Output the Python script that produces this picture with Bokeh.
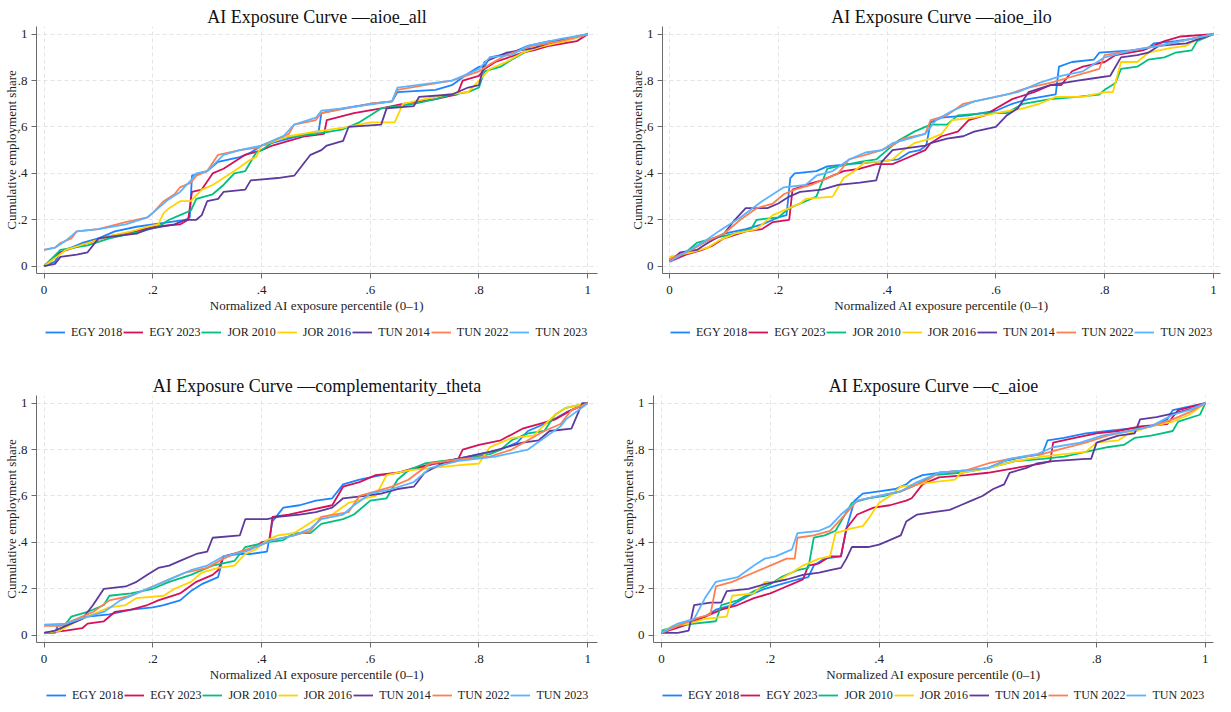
from bokeh.plotting import figure
from bokeh.models import (Range1d, FixedTicker, CustomJSTickFormatter, Legend, LegendItem)
from bokeh.layouts import column, row
from bokeh.embed import file_html
from bokeh.resources import INLINE

FONT = "Liberation Serif"
SERIES = ["EGY 2018", "EGY 2023", "JOR 2010", "JOR 2016", "TUN 2014", "TUN 2022", "TUN 2023"]
COLORS = ["#1a85ff", "#d41159", "#00bf7f", "#ffd400", "#5e3a9e", "#ff7f50", "#5ab4ff"]
TICKS = [0, 0.2, 0.4, 0.6, 0.8, 1.0]

# ---------------- aioe_all ----------------
ALL_EGY_2018 = [(0, 0.0), (0.02, 0.02), (0.03, 0.06), (0.05, 0.08), (0.07, 0.10), (0.1, 0.12), (0.13, 0.15),
                (0.17, 0.17), (0.2, 0.18), (0.26, 0.20), (0.268, 0.21), (0.272, 0.39), (0.3, 0.41), (0.32, 0.45),
                (0.36, 0.47), (0.38, 0.49), (0.4, 0.52), (0.45, 0.55), (0.5, 0.58), (0.505, 0.58), (0.51, 0.66),
                (0.55, 0.68), (0.6, 0.70), (0.64, 0.71), (0.65, 0.75), (0.72, 0.76), (0.75, 0.78), (0.78, 0.83),
                (0.8, 0.86), (0.81, 0.86), (0.82, 0.90), (0.86, 0.92), (0.89, 0.95), (0.93, 0.97), (0.97, 0.98),
                (1.0, 1.0)]
ALL_EGY_2023 = [(0, 0.0), (0.03, 0.06), (0.08, 0.10), (0.12, 0.13), (0.17, 0.15), (0.2, 0.17), (0.25, 0.18),
                (0.265, 0.20), (0.272, 0.32), (0.29, 0.33), (0.31, 0.40), (0.33, 0.42), (0.35, 0.45), (0.37, 0.48),
                (0.4, 0.50), (0.42, 0.52), (0.45, 0.54), (0.48, 0.56), (0.515, 0.57), (0.52, 0.63), (0.57, 0.66),
                (0.62, 0.68), (0.66, 0.70), (0.72, 0.72), (0.76, 0.74), (0.77, 0.80), (0.8, 0.82), (0.81, 0.85),
                (0.83, 0.88), (0.88, 0.92), (0.9, 0.93), (0.93, 0.95), (0.98, 0.97), (1.0, 1.0)]
ALL_JOR_2010 = [(0, 0.0), (0.03, 0.07), (0.08, 0.09), (0.12, 0.12), (0.16, 0.14), (0.18, 0.15), (0.21, 0.17),
                (0.23, 0.20), (0.25, 0.22), (0.27, 0.24), (0.28, 0.29), (0.31, 0.31), (0.33, 0.35), (0.35, 0.40),
                (0.37, 0.41), (0.39, 0.49), (0.4, 0.50), (0.43, 0.55), (0.5, 0.57), (0.55, 0.59), (0.58, 0.62),
                (0.62, 0.68), (0.68, 0.70), (0.72, 0.72), (0.75, 0.74), (0.78, 0.75), (0.8, 0.77), (0.81, 0.84),
                (0.84, 0.86), (0.86, 0.89), (0.89, 0.93), (0.93, 0.96), (0.97, 0.98), (1.0, 1.0)]
ALL_JOR_2016 = [(0, 0.0), (0.04, 0.07), (0.08, 0.10), (0.12, 0.13), (0.16, 0.15), (0.19, 0.17), (0.21, 0.18),
                (0.22, 0.23), (0.23, 0.25), (0.25, 0.28), (0.27, 0.28), (0.29, 0.33), (0.31, 0.35), (0.33, 0.38),
                (0.35, 0.41), (0.38, 0.46), (0.39, 0.47), (0.4, 0.52), (0.45, 0.56), (0.5, 0.58), (0.56, 0.60),
                (0.6, 0.62), (0.645, 0.62), (0.66, 0.70), (0.7, 0.72), (0.74, 0.74), (0.78, 0.75), (0.8, 0.80),
                (0.82, 0.85), (0.85, 0.88), (0.88, 0.92), (0.92, 0.95), (0.96, 0.97), (1.0, 1.0)]
ALL_TUN_2014 = [(0, 0.0), (0.02, 0.01), (0.03, 0.04), (0.06, 0.05), (0.08, 0.06), (0.1, 0.12), (0.13, 0.13),
                (0.17, 0.14), (0.19, 0.16), (0.24, 0.18), (0.26, 0.20), (0.28, 0.20), (0.29, 0.22), (0.3, 0.28),
                (0.32, 0.29), (0.33, 0.32), (0.37, 0.33), (0.38, 0.37), (0.43, 0.38), (0.46, 0.39), (0.47, 0.42),
                (0.49, 0.48), (0.51, 0.50), (0.52, 0.52), (0.55, 0.54), (0.56, 0.60), (0.62, 0.61), (0.63, 0.68),
                (0.68, 0.69), (0.69, 0.73), (0.75, 0.74), (0.78, 0.77), (0.8, 0.78), (0.81, 0.88), (0.85, 0.92),
                (0.9, 0.94), (0.94, 0.97), (1.0, 1.0)]
ALL_TUN_2022 = [(0, 0.07), (0.02, 0.08), (0.03, 0.10), (0.05, 0.12), (0.06, 0.15), (0.1, 0.16), (0.15, 0.19),
                (0.19, 0.21), (0.2, 0.23), (0.22, 0.28), (0.24, 0.31), (0.25, 0.34), (0.27, 0.36), (0.28, 0.39),
                (0.3, 0.41), (0.32, 0.48), (0.36, 0.50), (0.39, 0.51), (0.42, 0.54), (0.45, 0.57), (0.46, 0.61),
                (0.5, 0.63), (0.51, 0.66), (0.6, 0.70), (0.64, 0.71), (0.65, 0.76), (0.7, 0.78), (0.75, 0.80),
                (0.8, 0.84), (0.82, 0.87), (0.85, 0.91), (0.9, 0.95), (0.95, 0.97), (1.0, 1.0)]
ALL_TUN_2023 = [(0, 0.07), (0.02, 0.08), (0.04, 0.11), (0.06, 0.15), (0.1, 0.16), (0.15, 0.18), (0.19, 0.21),
                (0.21, 0.25), (0.23, 0.29), (0.25, 0.32), (0.27, 0.37), (0.28, 0.40), (0.3, 0.41), (0.33, 0.48),
                (0.36, 0.50), (0.4, 0.52), (0.44, 0.56), (0.46, 0.61), (0.5, 0.64), (0.51, 0.67), (0.55, 0.68),
                (0.64, 0.71), (0.65, 0.77), (0.75, 0.80), (0.8, 0.85), (0.82, 0.90), (0.86, 0.91), (0.89, 0.95),
                (0.95, 0.98), (1.0, 1.0)]

# ---------------- aioe_ilo ----------------
ILO_EGY_2018 = [(0, 0.03), (0.03, 0.06), (0.06, 0.10), (0.1, 0.14), (0.14, 0.16), (0.17, 0.18), (0.2, 0.21),
                (0.215, 0.22), (0.222, 0.38), (0.23, 0.40), (0.27, 0.41), (0.29, 0.43), (0.33, 0.44), (0.38, 0.45),
                (0.42, 0.46), (0.44, 0.49), (0.46, 0.50), (0.472, 0.52), (0.48, 0.62), (0.5, 0.64), (0.55, 0.65),
                (0.6, 0.67), (0.63, 0.70), (0.66, 0.72), (0.71, 0.74), (0.716, 0.86), (0.74, 0.88), (0.78, 0.89),
                (0.79, 0.92), (0.85, 0.93), (0.88, 0.94), (0.89, 0.96), (0.93, 0.97), (0.96, 0.98), (1.0, 1.0)]
ILO_EGY_2023 = [(0, 0.02), (0.03, 0.05), (0.06, 0.07), (0.08, 0.09), (0.1, 0.12), (0.14, 0.15), (0.17, 0.16),
                (0.19, 0.19), (0.22, 0.20), (0.226, 0.33), (0.25, 0.35), (0.28, 0.37), (0.3, 0.39), (0.32, 0.41),
                (0.35, 0.42), (0.38, 0.44), (0.41, 0.44), (0.43, 0.46), (0.47, 0.50), (0.48, 0.53), (0.5, 0.56),
                (0.53, 0.58), (0.55, 0.63), (0.58, 0.65), (0.6, 0.68), (0.63, 0.72), (0.67, 0.75), (0.7, 0.78),
                (0.72, 0.78), (0.74, 0.84), (0.76, 0.86), (0.8, 0.88), (0.82, 0.91), (0.87, 0.93), (0.91, 0.97),
                (0.94, 0.99), (1.0, 1.0)]
ILO_JOR_2010 = [(0, 0.03), (0.03, 0.06), (0.05, 0.10), (0.08, 0.12), (0.12, 0.14), (0.15, 0.16), (0.16, 0.20),
                (0.2, 0.21), (0.22, 0.25), (0.25, 0.28), (0.27, 0.30), (0.29, 0.42), (0.31, 0.43), (0.35, 0.45),
                (0.38, 0.46), (0.4, 0.50), (0.42, 0.54), (0.45, 0.58), (0.48, 0.61), (0.51, 0.61), (0.53, 0.65),
                (0.58, 0.66), (0.62, 0.66), (0.65, 0.70), (0.7, 0.72), (0.75, 0.73), (0.79, 0.74), (0.8, 0.76),
                (0.82, 0.79), (0.83, 0.85), (0.86, 0.86), (0.88, 0.89), (0.91, 0.90), (0.93, 0.92), (0.96, 0.93),
                (0.97, 0.97), (1.0, 1.0)]
ILO_JOR_2016 = [(0, 0.04), (0.04, 0.06), (0.07, 0.08), (0.09, 0.11), (0.12, 0.14), (0.16, 0.16), (0.19, 0.22),
                (0.22, 0.25), (0.24, 0.27), (0.25, 0.29), (0.3, 0.30), (0.32, 0.38), (0.34, 0.41), (0.36, 0.45),
                (0.39, 0.45), (0.41, 0.46), (0.43, 0.50), (0.45, 0.53), (0.48, 0.55), (0.5, 0.57), (0.52, 0.63),
                (0.56, 0.64), (0.6, 0.66), (0.65, 0.68), (0.68, 0.70), (0.71, 0.73), (0.76, 0.73), (0.8, 0.75),
                (0.815, 0.75), (0.83, 0.88), (0.86, 0.88), (0.88, 0.92), (0.92, 0.94), (0.95, 0.95), (0.97, 0.98),
                (1.0, 1.0)]
ILO_TUN_2014 = [(0, 0.02), (0.02, 0.06), (0.05, 0.07), (0.07, 0.10), (0.1, 0.14), (0.12, 0.20), (0.14, 0.25),
                (0.18, 0.25), (0.2, 0.27), (0.22, 0.30), (0.24, 0.32), (0.28, 0.33), (0.31, 0.35), (0.35, 0.36),
                (0.38, 0.37), (0.39, 0.45), (0.41, 0.50), (0.44, 0.51), (0.47, 0.52), (0.48, 0.53), (0.51, 0.55),
                (0.54, 0.56), (0.56, 0.58), (0.6, 0.60), (0.62, 0.65), (0.64, 0.68), (0.66, 0.75), (0.7, 0.78),
                (0.75, 0.80), (0.78, 0.81), (0.81, 0.82), (0.83, 0.90), (0.86, 0.91), (0.88, 0.92), (0.9, 0.95),
                (0.95, 0.96), (1.0, 1.0)]
ILO_TUN_2022 = [(0, 0.03), (0.04, 0.07), (0.07, 0.11), (0.1, 0.14), (0.13, 0.20), (0.16, 0.25), (0.19, 0.27),
                (0.21, 0.31), (0.23, 0.33), (0.26, 0.35), (0.28, 0.37), (0.31, 0.40), (0.33, 0.46), (0.36, 0.48),
                (0.39, 0.50), (0.41, 0.52), (0.43, 0.55), (0.47, 0.57), (0.48, 0.63), (0.51, 0.65), (0.54, 0.70),
                (0.58, 0.72), (0.62, 0.74), (0.66, 0.77), (0.7, 0.79), (0.73, 0.81), (0.76, 0.83), (0.79, 0.85),
                (0.8, 0.91), (0.85, 0.93), (0.9, 0.95), (0.94, 0.97), (1.0, 1.0)]
ILO_TUN_2023 = [(0, 0.02), (0.03, 0.06), (0.06, 0.10), (0.09, 0.15), (0.13, 0.21), (0.17, 0.28), (0.19, 0.31),
                (0.21, 0.34), (0.25, 0.35), (0.27, 0.39), (0.3, 0.41), (0.33, 0.46), (0.36, 0.49), (0.39, 0.50),
                (0.41, 0.53), (0.44, 0.55), (0.47, 0.57), (0.49, 0.63), (0.52, 0.67), (0.56, 0.71), (0.6, 0.73),
                (0.64, 0.75), (0.68, 0.79), (0.72, 0.82), (0.76, 0.84), (0.78, 0.87), (0.8, 0.90), (0.85, 0.93),
                (0.9, 0.95), (0.94, 0.97), (1.0, 1.0)]

# ---------------- complementarity_theta ----------------
THE_EGY_2018 = [(0, 0.01), (0.02, 0.01), (0.025, 0.04), (0.06, 0.06), (0.08, 0.08), (0.12, 0.09), (0.16, 0.11),
                (0.2, 0.12), (0.22, 0.13), (0.25, 0.15), (0.27, 0.19), (0.29, 0.22), (0.32, 0.25), (0.33, 0.34),
                (0.36, 0.35), (0.38, 0.35), (0.41, 0.36), (0.42, 0.49), (0.44, 0.55), (0.47, 0.56), (0.5, 0.58),
                (0.53, 0.59), (0.55, 0.65), (0.58, 0.67), (0.62, 0.69), (0.65, 0.70), (0.69, 0.72), (0.72, 0.74),
                (0.76, 0.76), (0.8, 0.78), (0.84, 0.80), (0.87, 0.83), (0.89, 0.88), (0.93, 0.92), (0.96, 0.96),
                (1.0, 1.0)]
THE_EGY_2023 = [(0, 0.01), (0.04, 0.02), (0.07, 0.03), (0.08, 0.05), (0.11, 0.06), (0.13, 0.10), (0.16, 0.11),
                (0.19, 0.13), (0.21, 0.15), (0.25, 0.18), (0.28, 0.23), (0.31, 0.26), (0.32, 0.28), (0.33, 0.34),
                (0.38, 0.37), (0.4, 0.40), (0.415, 0.41), (0.42, 0.51), (0.45, 0.52), (0.49, 0.54), (0.53, 0.56),
                (0.55, 0.64), (0.58, 0.66), (0.61, 0.69), (0.65, 0.70), (0.68, 0.72), (0.72, 0.74), (0.76, 0.75),
                (0.77, 0.80), (0.8, 0.82), (0.84, 0.84), (0.88, 0.89), (0.91, 0.91), (0.94, 0.93), (0.97, 0.97),
                (1.0, 1.0)]
THE_JOR_2010 = [(0, 0.01), (0.03, 0.02), (0.05, 0.08), (0.08, 0.10), (0.11, 0.13), (0.12, 0.17), (0.16, 0.18),
                (0.2, 0.20), (0.23, 0.23), (0.27, 0.26), (0.29, 0.28), (0.31, 0.30), (0.35, 0.32), (0.37, 0.38),
                (0.41, 0.40), (0.44, 0.41), (0.46, 0.44), (0.49, 0.44), (0.51, 0.48), (0.55, 0.50), (0.57, 0.52),
                (0.6, 0.58), (0.63, 0.59), (0.65, 0.67), (0.67, 0.71), (0.7, 0.74), (0.73, 0.75), (0.77, 0.76),
                (0.82, 0.78), (0.84, 0.80), (0.86, 0.84), (0.89, 0.87), (0.92, 0.88), (0.94, 0.95), (0.96, 0.98),
                (1.0, 1.0)]
THE_JOR_2016 = [(0, 0.01), (0.03, 0.02), (0.06, 0.06), (0.09, 0.09), (0.12, 0.12), (0.15, 0.13), (0.17, 0.16),
                (0.22, 0.17), (0.24, 0.20), (0.27, 0.23), (0.29, 0.27), (0.32, 0.29), (0.35, 0.30), (0.37, 0.35),
                (0.39, 0.37), (0.41, 0.41), (0.43, 0.43), (0.46, 0.44), (0.48, 0.47), (0.5, 0.50), (0.53, 0.52),
                (0.56, 0.57), (0.59, 0.59), (0.61, 0.60), (0.63, 0.69), (0.67, 0.71), (0.71, 0.72), (0.75, 0.73),
                (0.8, 0.74), (0.82, 0.81), (0.86, 0.85), (0.9, 0.86), (0.94, 0.95), (0.96, 0.98), (1.0, 1.0)]
THE_TUN_2014 = [(0, 0.01), (0.02, 0.02), (0.04, 0.04), (0.07, 0.07), (0.09, 0.13), (0.11, 0.20), (0.15, 0.21),
                (0.17, 0.23), (0.19, 0.26), (0.21, 0.29), (0.23, 0.30), (0.25, 0.32), (0.28, 0.35), (0.3, 0.36),
                (0.31, 0.42), (0.36, 0.43), (0.37, 0.50), (0.41, 0.50), (0.43, 0.51), (0.47, 0.52), (0.5, 0.53),
                (0.53, 0.55), (0.55, 0.59), (0.59, 0.60), (0.62, 0.61), (0.65, 0.63), (0.68, 0.64), (0.7, 0.70),
                (0.74, 0.75), (0.78, 0.77), (0.82, 0.79), (0.85, 0.81), (0.88, 0.83), (0.91, 0.84), (0.93, 0.88),
                (0.97, 0.89), (0.99, 1.0), (1.0, 1.0)]
THE_TUN_2022 = [(0, 0.04), (0.03, 0.04), (0.06, 0.07), (0.09, 0.10), (0.12, 0.15), (0.16, 0.17), (0.19, 0.20),
                (0.22, 0.23), (0.26, 0.27), (0.3, 0.29), (0.33, 0.33), (0.36, 0.36), (0.4, 0.39), (0.42, 0.41),
                (0.46, 0.43), (0.49, 0.45), (0.51, 0.51), (0.56, 0.53), (0.58, 0.60), (0.61, 0.62), (0.64, 0.64),
                (0.67, 0.67), (0.71, 0.74), (0.77, 0.76), (0.82, 0.77), (0.86, 0.80), (0.89, 0.84), (0.92, 0.88),
                (0.95, 0.91), (0.97, 0.97), (1.0, 1.0)]
THE_TUN_2023 = [(0, 0.045), (0.04, 0.05), (0.08, 0.08), (0.11, 0.10), (0.14, 0.15), (0.17, 0.18), (0.2, 0.21),
                (0.24, 0.25), (0.27, 0.28), (0.3, 0.30), (0.33, 0.34), (0.37, 0.36), (0.4, 0.39), (0.42, 0.41),
                (0.46, 0.43), (0.49, 0.46), (0.51, 0.50), (0.55, 0.52), (0.57, 0.56), (0.6, 0.61), (0.64, 0.63),
                (0.68, 0.66), (0.71, 0.72), (0.76, 0.75), (0.83, 0.77), (0.89, 0.80), (0.95, 0.90), (0.96, 0.93),
                (1.0, 1.0)]

# ---------------- c_aioe ----------------
CA_EGY_2018 = [(0, 0.01), (0.03, 0.04), (0.05, 0.06), (0.08, 0.08), (0.1, 0.11), (0.13, 0.13), (0.16, 0.17),
               (0.19, 0.20), (0.22, 0.22), (0.25, 0.24), (0.27, 0.25), (0.28, 0.30), (0.3, 0.33), (0.33, 0.34),
               (0.34, 0.46), (0.355, 0.58), (0.37, 0.61), (0.4, 0.62), (0.43, 0.63), (0.45, 0.65), (0.46, 0.67),
               (0.48, 0.69), (0.51, 0.70), (0.56, 0.71), (0.6, 0.72), (0.63, 0.75), (0.67, 0.77), (0.7, 0.78),
               (0.71, 0.84), (0.74, 0.85), (0.78, 0.87), (0.82, 0.88), (0.86, 0.89), (0.9, 0.90), (0.93, 0.93),
               (0.94, 0.97), (1.0, 1.0)]
CA_EGY_2023 = [(0, 0.01), (0.04, 0.04), (0.07, 0.07), (0.09, 0.09), (0.11, 0.11), (0.14, 0.13), (0.17, 0.16),
               (0.2, 0.18), (0.22, 0.20), (0.24, 0.22), (0.26, 0.24), (0.27, 0.30), (0.29, 0.31), (0.31, 0.34),
               (0.33, 0.34), (0.34, 0.46), (0.36, 0.52), (0.39, 0.55), (0.42, 0.56), (0.45, 0.58), (0.46, 0.59),
               (0.48, 0.65), (0.51, 0.68), (0.56, 0.69), (0.6, 0.70), (0.65, 0.72), (0.7, 0.74), (0.715, 0.75),
               (0.72, 0.83), (0.76, 0.85), (0.8, 0.87), (0.84, 0.88), (0.88, 0.90), (0.93, 0.91), (0.95, 0.97),
               (1.0, 1.0)]
CA_JOR_2010 = [(0, 0.02), (0.03, 0.04), (0.06, 0.05), (0.1, 0.06), (0.11, 0.13), (0.14, 0.15), (0.17, 0.19),
               (0.2, 0.22), (0.22, 0.25), (0.25, 0.28), (0.27, 0.29), (0.28, 0.42), (0.3, 0.43), (0.32, 0.45),
               (0.35, 0.57), (0.38, 0.59), (0.41, 0.60), (0.44, 0.62), (0.47, 0.65), (0.5, 0.69), (0.55, 0.70),
               (0.6, 0.72), (0.65, 0.75), (0.7, 0.76), (0.74, 0.77), (0.78, 0.79), (0.82, 0.81), (0.85, 0.82),
               (0.87, 0.85), (0.9, 0.86), (0.92, 0.87), (0.94, 0.88), (0.95, 0.92), (0.99, 0.95), (1.0, 1.0)]
CA_JOR_2016 = [(0, 0.01), (0.02, 0.04), (0.05, 0.05), (0.08, 0.07), (0.12, 0.08), (0.13, 0.17), (0.17, 0.18),
               (0.19, 0.23), (0.21, 0.23), (0.24, 0.27), (0.26, 0.30), (0.29, 0.33), (0.31, 0.34), (0.32, 0.44),
               (0.35, 0.46), (0.37, 0.47), (0.38, 0.50), (0.4, 0.57), (0.42, 0.60), (0.44, 0.64), (0.47, 0.65),
               (0.5, 0.66), (0.54, 0.67), (0.55, 0.70), (0.6, 0.72), (0.65, 0.75), (0.7, 0.77), (0.74, 0.78),
               (0.78, 0.79), (0.8, 0.83), (0.84, 0.84), (0.86, 0.87), (0.9, 0.90), (0.94, 0.92), (0.97, 0.95),
               (1.0, 1.0)]
CA_TUN_2014 = [(0, 0.01), (0.03, 0.01), (0.05, 0.02), (0.06, 0.13), (0.09, 0.14), (0.11, 0.14), (0.12, 0.19),
               (0.16, 0.20), (0.19, 0.22), (0.23, 0.24), (0.26, 0.26), (0.29, 0.27), (0.31, 0.28), (0.33, 0.29),
               (0.34, 0.33), (0.35, 0.38), (0.38, 0.38), (0.4, 0.39), (0.41, 0.40), (0.44, 0.43), (0.45, 0.49),
               (0.47, 0.52), (0.5, 0.53), (0.53, 0.54), (0.55, 0.56), (0.57, 0.58), (0.59, 0.60), (0.61, 0.63),
               (0.63, 0.65), (0.64, 0.70), (0.67, 0.72), (0.69, 0.74), (0.72, 0.75), (0.78, 0.76), (0.79, 0.76),
               (0.8, 0.83), (0.84, 0.86), (0.87, 0.87), (0.88, 0.93), (0.91, 0.94), (0.95, 0.96), (0.98, 0.98),
               (1.0, 1.0)]
CA_TUN_2022 = [(0, 0.01), (0.03, 0.04), (0.06, 0.07), (0.09, 0.09), (0.1, 0.21), (0.13, 0.23), (0.17, 0.27),
               (0.2, 0.30), (0.23, 0.33), (0.245, 0.33), (0.25, 0.42), (0.28, 0.43), (0.31, 0.45), (0.33, 0.50),
               (0.36, 0.58), (0.4, 0.60), (0.44, 0.62), (0.47, 0.65), (0.49, 0.67), (0.51, 0.70), (0.56, 0.71),
               (0.6, 0.74), (0.64, 0.76), (0.7, 0.78), (0.73, 0.80), (0.78, 0.83), (0.82, 0.86), (0.86, 0.88),
               (0.9, 0.90), (0.94, 0.93), (0.97, 0.96), (1.0, 1.0)]
CA_TUN_2023 = [(0, 0.01), (0.03, 0.05), (0.06, 0.07), (0.08, 0.16), (0.1, 0.23), (0.14, 0.25), (0.17, 0.30),
               (0.19, 0.33), (0.21, 0.34), (0.24, 0.37), (0.25, 0.44), (0.29, 0.45), (0.31, 0.47), (0.33, 0.52),
               (0.36, 0.58), (0.4, 0.60), (0.44, 0.62), (0.47, 0.66), (0.51, 0.70), (0.56, 0.71), (0.6, 0.72),
               (0.64, 0.76), (0.69, 0.78), (0.72, 0.81), (0.77, 0.83), (0.81, 0.86), (0.86, 0.88), (0.9, 0.90),
               (0.94, 0.95), (0.97, 0.97), (1.0, 1.0)]

PANELS = [
    ("AI Exposure Curve \u2014aioe_all",
     [ALL_EGY_2018, ALL_EGY_2023, ALL_JOR_2010, ALL_JOR_2016, ALL_TUN_2014, ALL_TUN_2022, ALL_TUN_2023]),
    ("AI Exposure Curve \u2014aioe_ilo",
     [ILO_EGY_2018, ILO_EGY_2023, ILO_JOR_2010, ILO_JOR_2016, ILO_TUN_2014, ILO_TUN_2022, ILO_TUN_2023]),
    ("AI Exposure Curve \u2014complementarity_theta",
     [THE_EGY_2018, THE_EGY_2023, THE_JOR_2010, THE_JOR_2016, THE_TUN_2014, THE_TUN_2022, THE_TUN_2023]),
    ("AI Exposure Curve \u2014c_aioe",
     [CA_EGY_2018, CA_EGY_2023, CA_JOR_2010, CA_JOR_2016, CA_TUN_2014, CA_TUN_2022, CA_TUN_2023]),
]

FMT = CustomJSTickFormatter(code="""
if (Math.abs(tick) < 1e-9) return "0";
if (Math.abs(tick - 1) < 1e-9) return "1";
return tick.toFixed(1).replace(/^0/, "");
""")


def make_panel(title, data, fw, fh, xr, mr, mt):
    p = figure(frame_width=fw, frame_height=fh, output_backend="svg", toolbar_location=None,
               x_range=Range1d(*xr), y_range=Range1d(-0.0315, 1.033),
               min_border_left=30, min_border_right=mr, min_border_top=mt, min_border_bottom=43,
               background_fill_color="white", border_fill_color="white")
    p.outline_line_color = None
    p.title.text = title
    p.title.text_font = FONT
    p.title.text_font_size = "18px"
    p.title.text_font_style = "normal"
    p.title.text_color = "#111111"
    p.title.align = "center"
    p.title.standoff = 0
    p.title.offset = 0
    for ax in (p.xaxis[0], p.yaxis[0]):
        ax.ticker = FixedTicker(ticks=TICKS)
        ax.formatter = FMT
        ax.major_label_text_font = FONT
        ax.major_label_text_font_size = "13px"
        ax.major_label_text_color = "#222222"
        ax.axis_label_text_font = FONT
        ax.axis_label_text_font_size = "13px"
        ax.axis_label_text_font_style = "normal"
        ax.axis_label_text_color = "#222222"
        ax.axis_line_color = "#6b6b6b"
        ax.major_tick_line_color = "#6b6b6b"
        ax.major_tick_out = 5
        ax.major_tick_in = 0
        ax.minor_tick_line_color = None
    p.xaxis.axis_label = "Normalized AI exposure percentile (0\u20131)"
    p.yaxis.axis_label = "Cumulative employment share"
    p.xaxis.major_label_standoff = 7
    p.xaxis.axis_label_standoff = 1
    p.yaxis.major_label_standoff = 4
    p.yaxis.axis_label_standoff = -4
    p.yaxis.major_label_orientation = "horizontal"
    for g in (p.xgrid[0], p.ygrid[0]):
        g.grid_line_color = "#e4e4e4"
        g.grid_line_dash = "4 3"
        g.grid_line_width = 1
        g.ticker = FixedTicker(ticks=TICKS)
    for color, pts in zip(COLORS, data):
        xs = [a for a, b in pts]
        ys = [b for a, b in pts]
        p.line(xs, ys, line_color=color, line_width=1.8)
    return p


def make_legend(data, width, height, x0, y0):
    # separate strip holding the legend; its frame is aligned with the plot above it.
    # The series are drawn here too, but outside the visible y range, so only the legend shows.
    q = figure(width=width, height=height, output_backend="svg", toolbar_location=None,
               x_range=Range1d(0, 1), y_range=Range1d(50, 51),
               x_axis_location=None, y_axis_location=None, min_border=0,
               background_fill_color="white", border_fill_color="white")
    q.outline_line_color = None
    q.grid.visible = False
    items = []
    for name, color, pts in zip(SERIES, COLORS, data):
        xs = [a for a, b in pts]
        ys = [b for a, b in pts]
        r = q.line(xs, ys, line_color=color, line_width=1.8)
        items.append(LegendItem(label=name, renderers=[r]))
    leg = Legend(items=items, orientation="horizontal", location=(x0, y0),
                 glyph_width=20, glyph_height=14, label_height=16, label_width=10,
                 label_standoff=6, spacing=1,
                 padding=0, margin=0, border_line_color=None, background_fill_alpha=0,
                 label_text_font=FONT, label_text_font_size="12px", label_text_color="#222222")
    q.add_layout(leg)
    return q


p1 = make_panel(PANELS[0][0], PANELS[0][1], 561, 247, (-0.014, 1.018), 29, 26)
p2 = make_panel(PANELS[1][0], PANELS[1][1], 558, 247, (-0.013, 1.013), 7, 26)
p3 = make_panel(PANELS[2][0], PANELS[2][1], 561, 247, (-0.014, 1.018), 20, 21)
p4 = make_panel(PANELS[3][0], PANELS[3][1], 560, 247, (-0.0147, 1.015), 14, 21)

l1 = make_legend(PANELS[0][1], 620, 57, 9, 33)
l2 = make_legend(PANELS[1][1], 595, 57, 8, 33)
l3 = make_legend(PANELS[2][1], 611, 18, 10, 0)
l4 = make_legend(PANELS[3][1], 604, 18, 9, 0)

layout = column(row(column(p1, l1, spacing=0), column(p2, l2, spacing=0), spacing=0),
                row(column(p3, l3, spacing=0), column(p4, l4, spacing=0), spacing=0),
                spacing=0)
open("out.html", "w").write(file_html(layout, INLINE))
